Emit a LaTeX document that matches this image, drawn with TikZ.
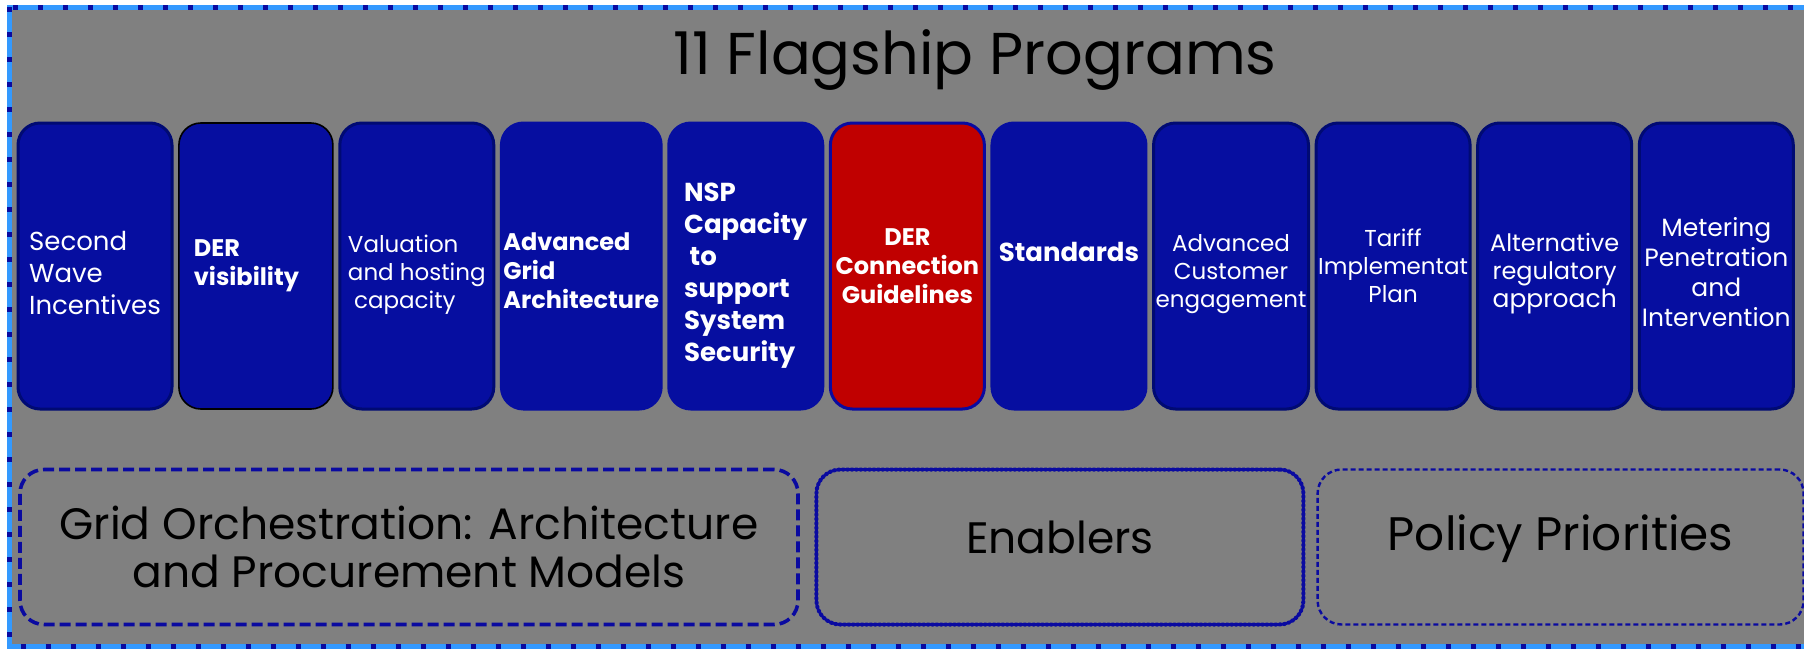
\documentclass[tikz,border=0pt]{standalone}
\usepackage{fontspec}
\setmainfont{Poppins}
\usepackage{xcolor}
\usetikzlibrary{positioning}

\definecolor{bggray}{RGB}{128,128,128}
\definecolor{progblue}{RGB}{6,14,160}
\definecolor{navy}{RGB}{0,10,115}
\definecolor{derred}{RGB}{192,0,0}
\definecolor{dashblue}{RGB}{10,10,160}
\definecolor{frameblue}{RGB}{51,153,255}

\newcommand{\bigtext}{\fontsize{13}{16}\selectfont}
\newcommand{\progtext}{\fontsize{11.5}{14}\selectfont}
\newcommand{\boldtext}{\fontsize{12}{14.5}\selectfont\bfseries}
% strut that pushes a block of lines down
\newcommand{\pushdown}[1]{\rule{0pt}{#1}}

\begin{document}
\begin{tikzpicture}[
    x=0.5pt, y=-0.5pt,
    node distance=2.3pt,
    prog/.style={rectangle, rounded corners=11pt, draw=navy, line width=1.5pt, fill=progblue, text=white, minimum width=77pt, minimum height=143pt, inner sep=1pt, align=center, font=\progtext},
    group/.style={rectangle, rounded corners=12pt, draw=dashblue, minimum height=77.5pt, align=center, font=\fontsize{22}{24}\selectfont}
]
\useasboundingbox (0,0) rectangle (1804,649);

% Background and frame
\fill[bggray] (9,6) rectangle (1804,647);
\draw[frameblue, line width=2.5pt] (9.5,7) rectangle (1812,646);
\draw[dashblue, line width=2.5pt, dash pattern=on 2.5pt off 10pt] (9.5,7) rectangle (1812,646);

% Title
\node[font=\fontsize{29.5}{34}\selectfont] (title) at (975,60) {11 Flagship Programs};

% Programs
\node[prog, font=\bigtext, align=left] (incent) at (95,266) {\pushdown{17pt}Second\\Wave\\Incentives};
\node[prog, draw=black, line width=0.8pt, font=\boldtext, align=left, text width=62pt, right=of incent] (vis) {DER\\visibility\rule[-3pt]{0pt}{0pt}};
\node[prog, align=left, right=of vis] (hosting) {\pushdown{17pt}Valuation\\and hosting\\~capacity};
\node[prog, draw=progblue, font=\boldtext, align=left, right=of hosting] (agarch) {\pushdown{13.5pt}Advanced\\Grid\\Architecture};
\node[prog, draw=progblue, font=\bigtext\bfseries, align=left, right=of agarch] (nsp) {\pushdown{19pt}NSP\\Capacity\\~to\\support\\System\\Security};
\node[prog, fill=derred, draw=dashblue, font=\boldtext, right=of nsp] (dercon) {DER\\Connection\\Guidelines};
\node[prog, draw=progblue, font=\fontsize{13}{15}\selectfont\bfseries, text depth=14pt, right=of dercon] (stds) {Standards};
\node[prog, right=of stds] (custeng) {\pushdown{17pt}Advanced\\Customer\\engagement};
\node[prog, right=of custeng] (tariff) {Tariff\\Implementat\\Plan};
\node[prog, font=\fontsize{12}{14}\selectfont, right=of tariff] (altreg) {\pushdown{17pt}Alternative\\regulatory\\{\fontsize{12.5}{15.5}\selectfont approach}};
\node[prog, font=\fontsize{12.5}{15}\selectfont, right=of altreg] (meter) {\pushdown{16pt}Metering\\Penetration\\and\\Intervention};

% Groups
\node[group, minimum width=389pt, line width=1.8pt, dash pattern=on 5.5pt off 2.5pt] (gridorch) at (409,547) {Grid Orchestration: Architecture\\and Procurement Models};
\node[group, minimum width=243.5pt, line width=2pt, line cap=round, dash pattern=on 0.6pt off 1.6pt, text depth=9.5pt, right=7.3pt of gridorch] (enab) {Enablers};
\node[group, minimum width=243pt, line width=1.2pt, dash pattern=on 2.5pt off 1.5pt, font=\fontsize{23.5}{26}\selectfont, text depth=14pt, right=5.5pt of enab] (policy) {Policy Priorities};

\end{tikzpicture}
\end{document}
